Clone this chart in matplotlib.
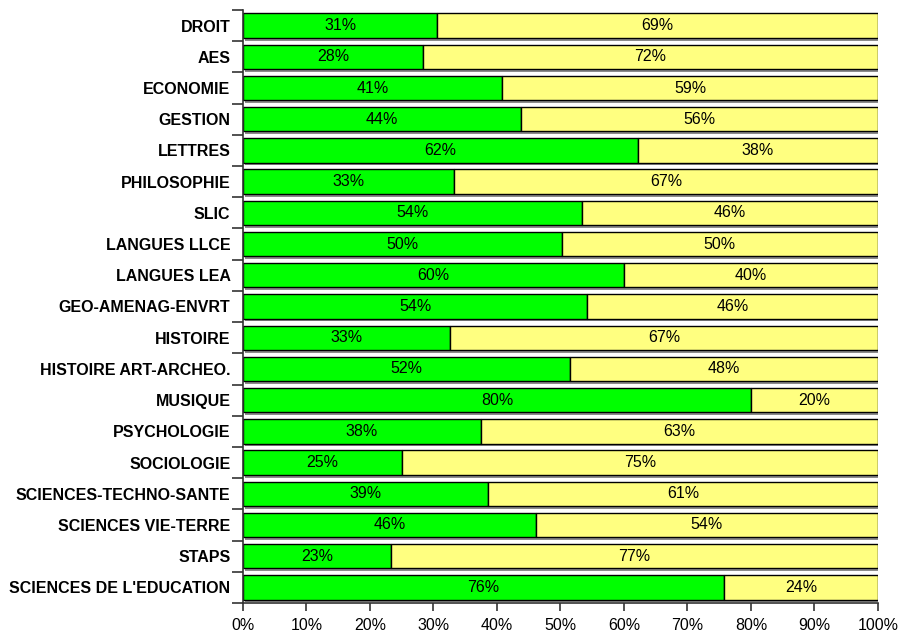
import numpy as np
import matplotlib.pyplot as plt

plt.rcParams['font.family'] = ['Liberation Sans', 'DejaVu Sans']

categories = ["DROIT", "AES", "ECONOMIE", "GESTION", "LETTRES", "PHILOSOPHIE", "SLIC",
              "LANGUES LLCE", "LANGUES LEA", "GEO-AMENAG-ENVRT", "HISTOIRE",
              "HISTOIRE ART-ARCHEO.", "MUSIQUE", "PSYCHOLOGIE", "SOCIOLOGIE",
              "SCIENCES-TECHNO-SANTE", "SCIENCES VIE-TERRE", "STAPS",
              "SCIENCES DE L'EDUCATION"]
share_green = [30.6, 28.3, 40.8, 43.8, 62.2, 33.2, 53.4, 50.2, 60.0, 54.2, 32.6,
               51.5, 80.0, 37.5, 25.0, 38.6, 46.1, 23.3, 75.7]
labels_green = ["31%", "28%", "41%", "44%", "62%", "33%", "54%", "50%", "60%", "54%", "33%",
                "52%", "80%", "38%", "25%", "39%", "46%", "23%", "76%"]
labels_yellow = ["69%", "72%", "59%", "56%", "38%", "67%", "46%", "50%", "40%", "46%", "67%",
                 "48%", "20%", "63%", "75%", "61%", "54%", "77%", "24%"]

green = np.array(share_green)
yellow = 100 - green
y = np.arange(len(categories))

fig = plt.figure(figsize=(8.98, 6.32), dpi=100)
ax = fig.add_axes([0.2706, 0.0459, 0.9777 - 0.2706, 0.9842 - 0.0459])

h = 0.78
# shadow under the bars
ax.barh(y + 0.09, np.full(len(y), 100.0), height=h, left=0.3, color='#8c8c8c', zorder=1)
ax.barh(y, green, height=h, color='#00FF00', edgecolor='black', linewidth=1, zorder=2)
ax.barh(y, yellow, height=h, left=green, color='#FFFF80', edgecolor='black', linewidth=1, zorder=2)

for i in range(len(y)):
    ax.text(green[i] / 2, y[i], labels_green[i], ha='center', va='center', fontsize=11.5, zorder=3)
    ax.text(green[i] + yellow[i] / 2, y[i], labels_yellow[i], ha='center', va='center',
            fontsize=11.5, zorder=3)

ax.set_xlim(0, 100)
ax.set_ylim(len(y) - 0.5, -0.5)
ax.set_xticks(np.arange(0, 101, 10))
ax.set_xticklabels([f"{v}%" for v in range(0, 101, 10)], fontsize=11.5)
ax.set_yticks(y)
ax.set_yticklabels(categories, fontsize=11.5, fontweight='bold')
ax.set_yticks(np.arange(-0.5, len(y), 1), minor=True)
ax.tick_params(axis='y', which='major', length=0, pad=9)
ax.tick_params(axis='y', which='minor', length=8, width=1.2, color='#333333')
ax.tick_params(axis='x', length=6, width=1.2, color='#333333', pad=5)

for s in ['top', 'right']:
    ax.spines[s].set_visible(False)
for s in ['left', 'bottom']:
    ax.spines[s].set_linewidth(1.2)
    ax.spines[s].set_color('#333333')

fig.savefig('out.png', dpi=100)
